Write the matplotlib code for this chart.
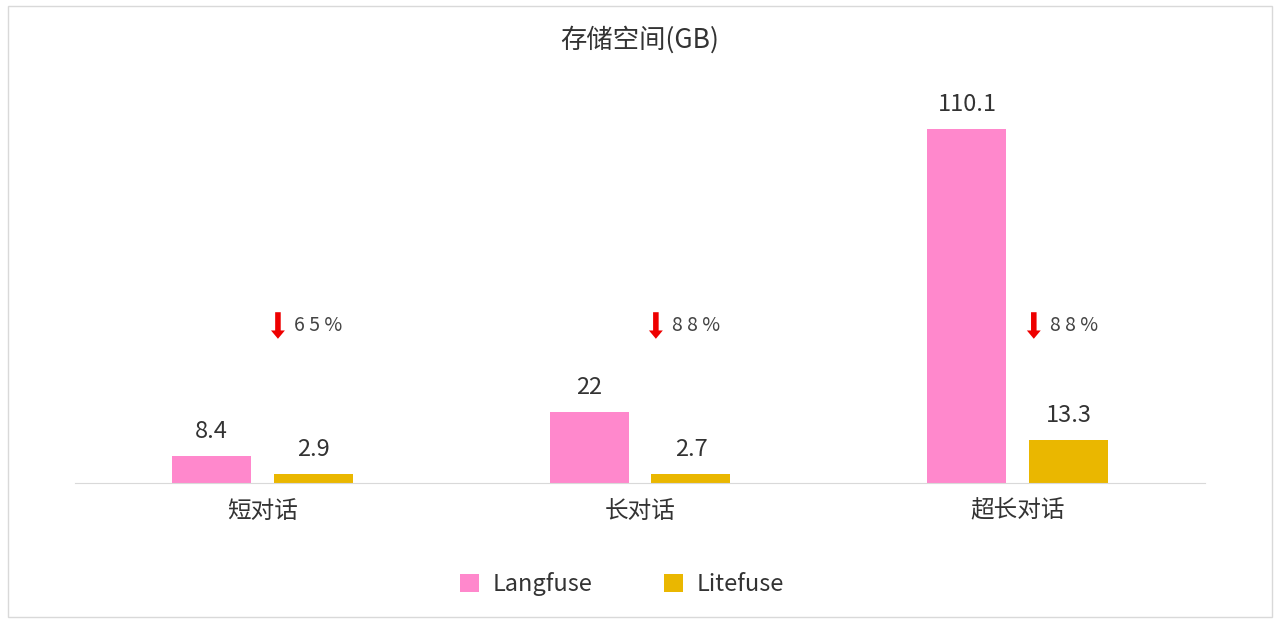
import numpy as np
import matplotlib.pyplot as plt
from matplotlib.patches import Rectangle

plt.rcParams['font.family'] = ['Noto Sans CJK SC', 'DejaVu Sans']

categories = ['短对话', '长对话', '超长对话']
langfuse = [8.4, 22, 110.1]
litefuse = [2.9, 2.7, 13.3]
reductions = ['65%', '88%', '88%']

fig = plt.figure(figsize=(12.8, 6.25), dpi=100)
fig.patches.append(Rectangle((8 / 1280, 8 / 625), 1264 / 1280, 611 / 625,
                             transform=fig.transFigure, fill=False,
                             edgecolor='#d9d9d9', linewidth=1))
ax = fig.add_axes([75 / 1280, 142 / 625, 1130 / 1280, 423 / 625])

x = np.arange(len(categories))
w = 79 / 378
off = 51 / 378
b1 = ax.bar(x - off, langfuse, w, color='#ff88cc', label='Langfuse')
b2 = ax.bar(x + off, litefuse, w, color='#eab700', label='Litefuse')
for bars in (b1, b2):
    for r in bars:
        v = r.get_height()
        ax.text(r.get_x() + r.get_width() / 2, v + 4, f'{v:g}', ha='center',
                va='bottom', fontsize=17, color='#333333')

for i, t in enumerate(reductions):
    ax.annotate('', xy=(i + 0.042, 44), xytext=(i + 0.042, 54),
                arrowprops=dict(arrowstyle='simple,head_width=1.0,head_length=0.6,tail_width=0.4',
                                color='#ee0000', lw=0))
    ax.text(i + 0.085, 49, ' '.join(t), ha='left', va='center', fontsize=14,
            color='#444444')

ax.set_xlim(-0.495, 2.495)
ax.set_ylim(0, 131.6)
ax.set_xticks(x)
ax.set_xticklabels(categories, fontsize=17, color='#333333')
ax.tick_params(axis='x', length=0, pad=12)
ax.set_yticks([])
for s in ['top', 'right', 'left']:
    ax.spines[s].set_visible(False)
ax.spines['bottom'].set_color('#d9d9d9')

fig.text(0.5, 1 - 40 / 625, '存储空间(GB)', ha='center', va='center',
         fontsize=19, color='#333333')
fig.legend(handles=[b1, b2], loc='center', bbox_to_anchor=(622 / 1280, 1 - 584 / 625),
           ncol=2, frameon=False, fontsize=17, handlelength=0.8, handleheight=0.8,
           columnspacing=3, handletextpad=0.6, labelcolor='#333333')

fig.savefig('out.png', dpi=100)
